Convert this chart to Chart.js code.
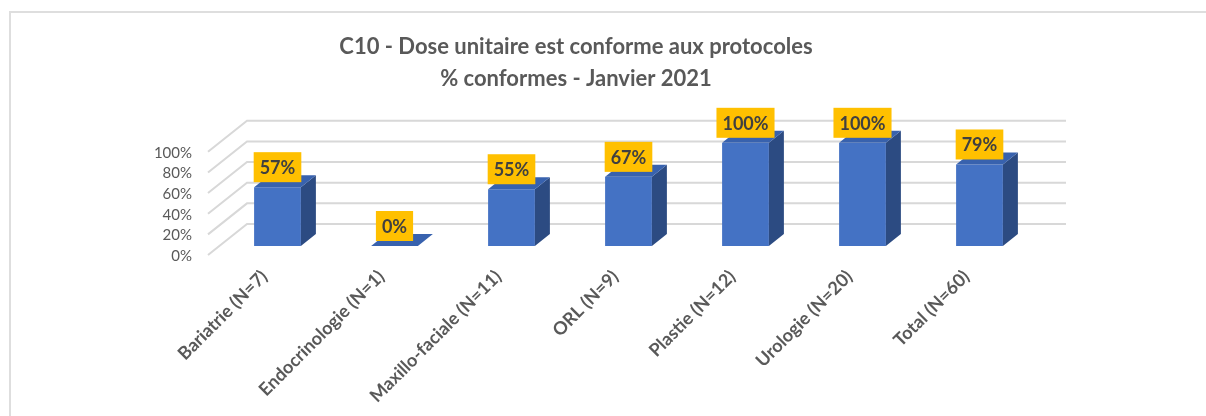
<!DOCTYPE html>
<html>
<head>
<meta charset="utf-8">
<script src="https://cdn.jsdelivr.net/npm/chart.js@4.4.0/dist/chart.umd.min.js"></script>
<style>
  body { margin: 0; background: #fff; }
  #wrap { position: relative; width: 1206px; height: 416px; overflow: hidden; }
  #frame { position: absolute; left: 9px; top: 11px; width: 1400px; height: 600px; border: 2px solid #dedede; }
  #c1 { position: absolute; left: 0; top: 0; }
</style>
</head>
<body>
<div id="wrap">
  <div id="frame"></div>
  <canvas id="c1" width="1206" height="416"></canvas>
</div>
<script>
// values
const categories = ['Bariatrie (N=7)', 'Endocrinologie (N=1)', 'Maxillo-faciale (N=11)', 'ORL (N=9)', 'Plastie (N=12)', 'Urologie (N=20)', 'Total (N=60)'];
const conformes = [57, 0, 55, 67, 100, 100, 79];
const titleLines = ['C10 - Dose unitaire est conforme aux protocoles', '% conformes - Janvier 2021'];
const yMax = 100;
const yStep = 20;

const textGrey = '#595959';
const barFront = '#4472C4';
const barTop = '#3862AE';
const barSide = '#2C4B82';
const gridColor = '#d8d8d8';

// 3D offsets (excel style depth)
const bar3d = { dx: 15, dy: 12 };
const wallBack = { dx: 28, dy: 22 };
const wallFront = { dx: 11, dy: 9 };

const fake3d = {
  id: 'fake3d',
  beforeDatasetsDraw(chart) {
    const ctx = chart.ctx;
    const y = chart.scales.y;
    const area = chart.chartArea;
    ctx.save();
    ctx.strokeStyle = gridColor;
    ctx.lineWidth = 2;
    y.ticks.forEach(t => {
      const py = y.getPixelForValue(t.value);
      ctx.beginPath();
      ctx.moveTo(area.left - wallFront.dx, py + wallFront.dy);
      ctx.lineTo(area.left + wallBack.dx, py - wallBack.dy);
      ctx.lineTo(area.right + wallBack.dx, py - wallBack.dy);
      ctx.stroke();
    });
    ctx.restore();
  },
  afterDatasetsDraw(chart) {
    const ctx = chart.ctx;
    const meta = chart.getDatasetMeta(0);
    ctx.save();
    meta.data.forEach(bar => {
      const p = bar.getProps(['x', 'y', 'base', 'width'], true);
      const l = p.x - p.width / 2, r = p.x + p.width / 2;
      // side
      ctx.fillStyle = barSide;
      ctx.beginPath();
      ctx.moveTo(r, p.y);
      ctx.lineTo(r + bar3d.dx, p.y - bar3d.dy);
      ctx.lineTo(r + bar3d.dx, p.base - bar3d.dy);
      ctx.lineTo(r, p.base);
      ctx.closePath();
      ctx.fill();
      // top
      ctx.fillStyle = barTop;
      ctx.beginPath();
      ctx.moveTo(l, p.y);
      ctx.lineTo(l + bar3d.dx, p.y - bar3d.dy);
      ctx.lineTo(r + bar3d.dx, p.y - bar3d.dy);
      ctx.lineTo(r, p.y);
      ctx.closePath();
      ctx.fill();
    });
    // value labels
    ctx.font = 'bold 18px Lato';
    ctx.textAlign = 'center';
    ctx.textBaseline = 'middle';
    meta.data.forEach((bar, i) => {
      const txt = conformes[i] + '%';
      const w = ctx.measureText(txt).width + 12;
      const h = 30;
      const bottom = bar.y - 5;
      ctx.fillStyle = '#FFC000';
      ctx.fillRect(bar.x - w / 2, bottom - h, w, h);
      ctx.fillStyle = '#404040';
      ctx.fillText(txt, bar.x, bottom - h / 2 + 1);
    });
    ctx.restore();
  }
};

function draw() {
  Chart.defaults.font.family = 'Lato';
  Chart.defaults.color = textGrey;
  new Chart(document.getElementById('c1'), {
    type: 'bar',
    data: {
      labels: categories,
      datasets: [{
        label: '% conformes',
        data: conformes,
        backgroundColor: barFront,
        barPercentage: 0.5,
        categoryPercentage: 0.8
      }]
    },
    options: {
      responsive: false,
      animation: false,
      layout: { padding: { left: 114, right: 168, top: 0, bottom: 0 } },
      plugins: {
        legend: { display: false },
        tooltip: { enabled: false },
        title: {
          display: true,
          text: titleLines,
          color: textGrey,
          font: { size: 22, weight: 'bold', lineHeight: 1.45 },
          padding: { top: 31, bottom: 48 }
        }
      },
      scales: {
        x: {
          grid: { display: false, drawTicks: false },
          border: { display: false },
          ticks: {
            autoSkip: false,
            maxRotation: 45,
            minRotation: 45,
            padding: 20,
            labelOffset: -13,
            color: textGrey,
            font: { size: 18, weight: 'bold' }
          },
          afterFit: s => { s.height = 170; }
        },
        y: {
          min: 0,
          max: yMax,
          grid: { display: false, drawTicks: false },
          border: { display: false },
          ticks: {
            autoSkip: false,
            stepSize: yStep,
            padding: 27,
            labelOffset: 10,
            color: textGrey,
            font: { size: 15 },
            callback: v => v + '%'
          },
          afterFit: s => { s.width = 105; }
        }
      }
    },
    plugins: [fake3d]
  });
}

document.fonts.load('bold 15px Lato').then(draw, draw);
</script>
</body>
</html>
